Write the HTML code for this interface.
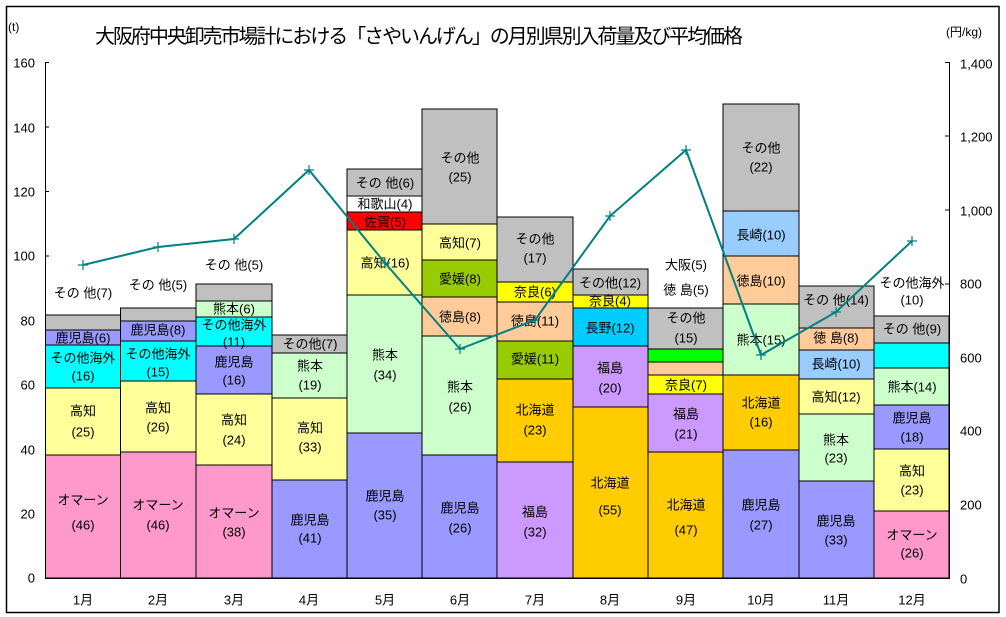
<!DOCTYPE html>
<html><head><meta charset="utf-8"><style>
html,body{margin:0;padding:0;background:#fff;}
svg{display:block;font-family:"Liberation Sans","Noto Sans CJK JP",sans-serif;}
.l{font-size:13px;text-anchor:middle;dominant-baseline:central;fill:#000;}
.t{font-size:13px;fill:#000;dominant-baseline:central;}
rect.s{stroke:#000;stroke-width:1;}
</style></head><body>
<svg width="1006" height="617" viewBox="0 0 1006 617">
<rect x="6.5" y="6.5" width="992.5" height="606" fill="#fff" stroke="#000" stroke-width="1.5"/>
<text x="419" y="37" font-size="20" text-anchor="middle" dominant-baseline="central" textLength="648" lengthAdjust="spacing">大阪府中央卸売市場計における「さやいんげん」の月別県別入荷量及び平均価格</text>
<text x="8" y="27" font-size="12" dominant-baseline="central">(t)</text>
<text x="946" y="32" font-size="12" dominant-baseline="central">(円/kg)</text>

<line x1="45.5" y1="62" x2="45.5" y2="578" stroke="#000"/>
<g stroke="#000">
<line x1="45" y1="62.5" x2="49" y2="62.5"/><line x1="45" y1="127" x2="49" y2="127"/><line x1="45" y1="191.5" x2="49" y2="191.5"/><line x1="45" y1="256" x2="49" y2="256"/><line x1="45" y1="320" x2="49" y2="320"/><line x1="45" y1="385" x2="49" y2="385"/><line x1="45" y1="449" x2="49" y2="449"/><line x1="45" y1="514" x2="49" y2="514"/>
</g>
<text x="35" y="63" text-anchor="end" class="t">160</text>
<text x="35" y="128" text-anchor="end" class="t">140</text>
<text x="35" y="192" text-anchor="end" class="t">120</text>
<text x="35" y="256" text-anchor="end" class="t">100</text>
<text x="35" y="321" text-anchor="end" class="t">80</text>
<text x="35" y="385" text-anchor="end" class="t">60</text>
<text x="35" y="450" text-anchor="end" class="t">40</text>
<text x="35" y="514" text-anchor="end" class="t">20</text>
<text x="35" y="578" text-anchor="end" class="t">0</text>

<line x1="949.5" y1="62" x2="949.5" y2="578" stroke="#000"/>
<g stroke="#000">
<line x1="945" y1="62.5" x2="950" y2="62.5"/><line x1="945" y1="136" x2="950" y2="136"/><line x1="945" y1="210" x2="950" y2="210"/><line x1="945" y1="284" x2="950" y2="284"/><line x1="945" y1="357" x2="950" y2="357"/><line x1="945" y1="431" x2="950" y2="431"/><line x1="945" y1="505" x2="950" y2="505"/>
</g>
<text x="960" y="64" class="t">1,400</text>
<text x="960" y="137" class="t">1,200</text>
<text x="960" y="211" class="t">1,000</text>
<text x="960" y="284" class="t">800</text>
<text x="960" y="358" class="t">600</text>
<text x="960" y="431" class="t">400</text>
<text x="960" y="505" class="t">200</text>
<text x="960" y="579" class="t">0</text>

<g>
<rect class="s" x="45.5" y="455" width="75" height="123" fill="#ff99cc"/>
<rect class="s" x="45.5" y="388" width="75" height="67" fill="#ffff99"/>
<rect class="s" x="45.5" y="345" width="75" height="43" fill="#00ffff"/>
<rect class="s" x="45.5" y="330" width="75" height="15" fill="#9999ff"/>
<rect class="s" x="45.5" y="315" width="75" height="15" fill="#c0c0c0"/>
<rect class="s" x="120.5" y="452" width="75.5" height="126" fill="#ff99cc"/>
<rect class="s" x="120.5" y="381" width="75.5" height="71" fill="#ffff99"/>
<rect class="s" x="120.5" y="341" width="75.5" height="40" fill="#00ffff"/>
<rect class="s" x="120.5" y="321" width="75.5" height="20" fill="#9999ff"/>
<rect class="s" x="120.5" y="308" width="75.5" height="13" fill="#c0c0c0"/>
<rect class="s" x="196" y="465" width="76" height="113" fill="#ff99cc"/>
<rect class="s" x="196" y="394" width="76" height="71" fill="#ffff99"/>
<rect class="s" x="196" y="346" width="76" height="48" fill="#9999ff"/>
<rect class="s" x="196" y="317" width="76" height="29" fill="#00ffff"/>
<rect class="s" x="196" y="301" width="76" height="16" fill="#ccffcc"/>
<rect class="s" x="196" y="284" width="76" height="17" fill="#c0c0c0"/>
<rect class="s" x="272" y="480" width="75" height="98" fill="#9999ff"/>
<rect class="s" x="272" y="398" width="75" height="82" fill="#ffff99"/>
<rect class="s" x="272" y="353" width="75" height="45" fill="#ccffcc"/>
<rect class="s" x="272" y="335" width="75" height="18" fill="#c0c0c0"/>
<rect class="s" x="347" y="433" width="75" height="145" fill="#9999ff"/>
<rect class="s" x="347" y="295" width="75" height="138" fill="#ccffcc"/>
<rect class="s" x="347" y="230" width="75" height="65" fill="#ffff99"/>
<rect class="s" x="347" y="212" width="75" height="18" fill="#ff0000"/>
<rect class="s" x="347" y="196" width="75" height="16" fill="#ffffff"/>
<rect class="s" x="347" y="169" width="75" height="27" fill="#c0c0c0"/>
<rect class="s" x="422" y="455" width="75" height="123" fill="#9999ff"/>
<rect class="s" x="422" y="336" width="75" height="119" fill="#ccffcc"/>
<rect class="s" x="422" y="297" width="75" height="39" fill="#ffcc99"/>
<rect class="s" x="422" y="260" width="75" height="37" fill="#99cc00"/>
<rect class="s" x="422" y="224" width="75" height="36" fill="#ffff99"/>
<rect class="s" x="422" y="109" width="75" height="115" fill="#c0c0c0"/>
<rect class="s" x="497" y="462" width="76" height="116" fill="#cc99ff"/>
<rect class="s" x="497" y="379" width="76" height="83" fill="#ffcc00"/>
<rect class="s" x="497" y="341" width="76" height="38" fill="#99cc00"/>
<rect class="s" x="497" y="302" width="76" height="39" fill="#ffcc99"/>
<rect class="s" x="497" y="282" width="76" height="20" fill="#ffff00"/>
<rect class="s" x="497" y="217" width="76" height="65" fill="#c0c0c0"/>
<rect class="s" x="573" y="407" width="75" height="171" fill="#ffcc00"/>
<rect class="s" x="573" y="346" width="75" height="61" fill="#cc99ff"/>
<rect class="s" x="573" y="308" width="75" height="38" fill="#00ccff"/>
<rect class="s" x="573" y="295" width="75" height="13" fill="#ffff00"/>
<rect class="s" x="573" y="269" width="75" height="26" fill="#c0c0c0"/>
<rect class="s" x="648" y="452" width="75" height="126" fill="#ffcc00"/>
<rect class="s" x="648" y="394" width="75" height="58" fill="#cc99ff"/>
<rect class="s" x="648" y="375" width="75" height="19" fill="#ffff00"/>
<rect class="s" x="648" y="362" width="75" height="13" fill="#ffcc99"/>
<rect class="s" x="648" y="349" width="75" height="13" fill="#00ff00"/>
<rect class="s" x="648" y="308" width="75" height="41" fill="#c0c0c0"/>
<rect class="s" x="723" y="450" width="76" height="128" fill="#9999ff"/>
<rect class="s" x="723" y="375" width="76" height="75" fill="#ffcc00"/>
<rect class="s" x="723" y="304" width="76" height="71" fill="#ccffcc"/>
<rect class="s" x="723" y="256" width="76" height="48" fill="#ffcc99"/>
<rect class="s" x="723" y="211" width="76" height="45" fill="#99ccff"/>
<rect class="s" x="723" y="104" width="76" height="107" fill="#c0c0c0"/>
<rect class="s" x="799" y="481" width="75" height="97" fill="#9999ff"/>
<rect class="s" x="799" y="414" width="75" height="67" fill="#ccffcc"/>
<rect class="s" x="799" y="379" width="75" height="35" fill="#ffff99"/>
<rect class="s" x="799" y="350" width="75" height="29" fill="#99ccff"/>
<rect class="s" x="799" y="328" width="75" height="22" fill="#ffcc99"/>
<rect class="s" x="799" y="286" width="75" height="42" fill="#c0c0c0"/>
<rect class="s" x="874" y="511" width="75" height="67" fill="#ff99cc"/>
<rect class="s" x="874" y="449" width="75" height="62" fill="#ffff99"/>
<rect class="s" x="874" y="405" width="75" height="44" fill="#9999ff"/>
<rect class="s" x="874" y="368" width="75" height="37" fill="#ccffcc"/>
<rect class="s" x="874" y="343" width="75" height="25" fill="#00ffff"/>
<rect class="s" x="874" y="316" width="75" height="27" fill="#c0c0c0"/>
</g>
<line x1="45" y1="578.5" x2="950" y2="578.5" stroke="#000"/>

<g>
<text class="l" x="83" y="500">オマーン</text><text class="l" x="83" y="525">(46)</text>
<text class="l" x="83" y="411">高知</text><text class="l" x="83" y="432">(25)</text>
<text class="l" x="83" y="358">その他海外</text><text class="l" x="83" y="376">(16)</text>
<text class="l" x="83" y="338">鹿児島(6)</text>
<text class="l" x="83" y="293">その 他(7)</text>

<text class="l" x="158" y="505">オマーン</text><text class="l" x="158" y="525">(46)</text>
<text class="l" x="158" y="408">高知</text><text class="l" x="158" y="427">(26)</text>
<text class="l" x="158" y="354">その他海外</text><text class="l" x="158" y="372">(15)</text>
<text class="l" x="158" y="330">鹿児島(8)</text>
<text class="l" x="158" y="285">その 他(5)</text>

<text class="l" x="234" y="513">オマーン</text><text class="l" x="234" y="532">(38)</text>
<text class="l" x="234" y="420">高知</text><text class="l" x="234" y="440">(24)</text>
<text class="l" x="234" y="362">鹿児島</text><text class="l" x="234" y="380">(16)</text>
<text class="l" x="234" y="325">その他海外</text><text class="l" x="234" y="342">(11)</text>
<text class="l" x="234" y="309">熊本(6)</text>
<text class="l" x="234" y="265">その 他(5)</text>

<text class="l" x="310" y="520">鹿児島</text><text class="l" x="310" y="538">(41)</text>
<text class="l" x="310" y="428">高知</text><text class="l" x="310" y="447">(33)</text>
<text class="l" x="310" y="366">熊本</text><text class="l" x="310" y="385">(19)</text>
<text class="l" x="310" y="344">その他(7)</text>

<text class="l" x="385" y="496">鹿児島</text><text class="l" x="385" y="515">(35)</text>
<text class="l" x="385" y="355">熊本</text><text class="l" x="385" y="375">(34)</text>
<text class="l" x="385" y="263">高知(16)</text>
<text class="l" x="385" y="222">佐賀(5)</text>
<text class="l" x="385" y="204">和歌山(4)</text>
<text class="l" x="385" y="183">その 他(6)</text>

<text class="l" x="460" y="508">鹿児島</text><text class="l" x="460" y="528">(26)</text>
<text class="l" x="460" y="387">熊本</text><text class="l" x="460" y="407">(26)</text>
<text class="l" x="460" y="317">徳島(8)</text>
<text class="l" x="460" y="279">愛媛(8)</text>
<text class="l" x="460" y="243">高知(7)</text>
<text class="l" x="460" y="158">その他</text><text class="l" x="460" y="177">(25)</text>

<text class="l" x="535" y="512">福島</text><text class="l" x="535" y="532">(32)</text>
<text class="l" x="535" y="410">北海道</text><text class="l" x="535" y="430">(23)</text>
<text class="l" x="535" y="359">愛媛(11)</text>
<text class="l" x="535" y="321">徳島(11)</text>
<text class="l" x="535" y="292">奈良(6)</text>
<text class="l" x="535" y="239">その他</text><text class="l" x="535" y="258">(17)</text>

<text class="l" x="610" y="483">北海道</text><text class="l" x="610" y="510">(55)</text>
<text class="l" x="610" y="368">福島</text><text class="l" x="610" y="388">(20)</text>
<text class="l" x="610" y="328">長野(12)</text>
<text class="l" x="610" y="301">奈良(4)</text>
<text class="l" x="610" y="283">その他(12)</text>

<text class="l" x="686" y="505">北海道</text><text class="l" x="686" y="530">(47)</text>
<text class="l" x="686" y="414">福島</text><text class="l" x="686" y="434">(21)</text>
<text class="l" x="686" y="385">奈良(7)</text>
<text class="l" x="686" y="318">その他</text><text class="l" x="686" y="338">(15)</text>
<text class="l" x="686" y="290">徳 島(5)</text>
<text class="l" x="686" y="265">大阪(5)</text>

<text class="l" x="761" y="505">鹿児島</text><text class="l" x="761" y="525">(27)</text>
<text class="l" x="761" y="403">北海道</text><text class="l" x="761" y="422">(16)</text>
<text class="l" x="761" y="340">熊本(15)</text>
<text class="l" x="761" y="281">徳島(10)</text>
<text class="l" x="761" y="235">長崎(10)</text>
<text class="l" x="761" y="148">その他</text><text class="l" x="761" y="167">(22)</text>

<text class="l" x="836" y="521">鹿児島</text><text class="l" x="836" y="540">(33)</text>
<text class="l" x="836" y="440">熊本</text><text class="l" x="836" y="458">(23)</text>
<text class="l" x="836" y="397">高知(12)</text>
<text class="l" x="836" y="364">長崎(10)</text>
<text class="l" x="836" y="338">徳 島(8)</text>
<text class="l" x="836" y="300">その 他(14)</text>

<text class="l" x="912" y="535">オマーン</text><text class="l" x="912" y="553">(26)</text>
<text class="l" x="912" y="471">高知</text><text class="l" x="912" y="490">(23)</text>
<text class="l" x="912" y="418">鹿児島</text><text class="l" x="912" y="437">(18)</text>
<text class="l" x="912" y="387">熊本(14)</text>
<text class="l" x="912" y="329">その 他(9)</text>
<text class="l" x="912" y="283">その他海外</text><text class="l" x="912" y="300">(10)</text>
</g>

<polyline fill="none" stroke="#008080" stroke-width="2" points="83,265 158,247 234,239 309,170 385,263 460,349 535,320 610,216 686,150 761,355 836,312 912,241"/>
<g stroke="#008080" stroke-width="1.2">
<path d="M78,265h10M83,260v10"/><path d="M153,247h10M158,242v10"/><path d="M229,239h10M234,234v10"/>
<path d="M304,170h10M309,165v10"/><path d="M380,263h10M385,258v10"/><path d="M455,349h10M460,344v10"/>
<path d="M530,320h10M535,315v10"/><path d="M605,216h10M610,211v10"/><path d="M681,150h10M686,145v10"/>
<path d="M756,355h10M761,350v10"/><path d="M831,312h10M836,307v10"/><path d="M907,241h10M912,236v10"/>
</g>

<g>
<text class="l" x="83" y="600">1月</text><text class="l" x="158" y="600">2月</text><text class="l" x="234" y="600">3月</text>
<text class="l" x="309" y="600">4月</text><text class="l" x="385" y="600">5月</text><text class="l" x="460" y="600">6月</text>
<text class="l" x="535" y="600">7月</text><text class="l" x="610" y="600">8月</text><text class="l" x="686" y="600">9月</text>
<text class="l" x="761" y="600">10月</text><text class="l" x="836" y="600">11月</text><text class="l" x="912" y="600">12月</text>
</g>
</svg>
</body></html>
